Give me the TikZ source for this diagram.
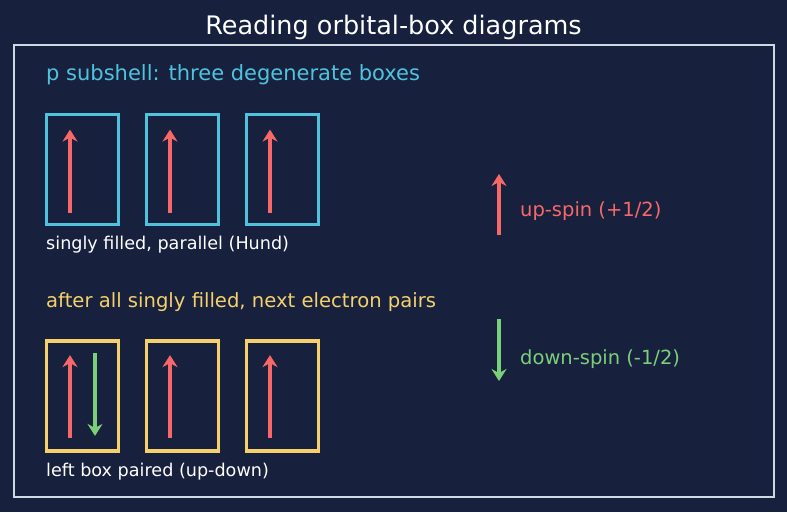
\documentclass[tikz,border=0pt]{standalone}
\usepackage{fontspec}
\setmainfont{DejaVu Sans}
\usetikzlibrary{arrows.meta}
\definecolor{bgnavy}{HTML}{17213E}
\definecolor{framegray}{HTML}{D0D8E4}
\definecolor{pcyan}{HTML}{4FC3DE}
\definecolor{pyellow}{HTML}{F5D06B}
\definecolor{spinred}{HTML}{F86868}
\definecolor{spingreen}{HTML}{7CCF7A}
\tikzset{
  orbbox/.style={draw,line width=3.8pt,minimum width=72pt,minimum height=110pt,inner sep=0pt},
  spinup/.style={spinred,line width=3.5pt,-{Stealth[length=12pt,width=15pt,inset=4pt]}},
  spindown/.style={spingreen,line width=3.5pt,-{Stealth[length=12pt,width=15pt,inset=4pt]}}
}
\begin{document}
\begin{tikzpicture}[x=1pt,y=-1pt]
\fill[bgnavy] (0,0) rectangle (787,512);
\node (title) at (393.5,27)[white,font=\fontsize{25.5}{30}\selectfont]{Reading orbital-box diagrams};
\draw[framegray,line width=1.8pt] (14,45) rectangle (774,497);
% p subshell, singly filled
\node (phead) at (46,75)[anchor=west,inner sep=0pt,pcyan,font=\fontsize{21}{25}\selectfont]{p subshell: three degenerate boxes};
\node (pa) at (82.5,169.5)[orbbox,pcyan]{};
\node (pb) at (182.5,169.5)[orbbox,pcyan]{};
\node (pc) at (282.5,169.5)[orbbox,pcyan]{};
\draw[spinup] ([xshift=-12.5pt,yshift=13.5pt]pa.south) -- ([xshift=-12.5pt,yshift=-17pt]pa.north);
\draw[spinup] ([xshift=-12.5pt,yshift=13.5pt]pb.south) -- ([xshift=-12.5pt,yshift=-17pt]pb.north);
\draw[spinup] ([xshift=-12.5pt,yshift=13.5pt]pc.south) -- ([xshift=-12.5pt,yshift=-17pt]pc.north);
\node (pnote) at (46,245)[anchor=west,inner sep=0pt,white,font=\fontsize{17.6}{21}\selectfont]{singly filled, parallel (Hund)};
% next electron pairs up
\node (qhead) at (46,302)[anchor=west,inner sep=0pt,pyellow,font=\fontsize{19.6}{24}\selectfont]{after all singly filled, next electron pairs};
\node (qa) at (82.5,396)[orbbox,pyellow]{};
\node (qb) at (182.5,396)[orbbox,pyellow]{};
\node (qc) at (282.5,396)[orbbox,pyellow]{};
\draw[spinup] ([xshift=-12.5pt,yshift=15pt]qa.south) -- ([xshift=-12.5pt,yshift=-16pt]qa.north);
\draw[spindown] ([xshift=12.5pt,yshift=-14pt]qa.north) -- ([xshift=12.5pt,yshift=17pt]qa.south);
\draw[spinup] ([xshift=-12.5pt,yshift=15pt]qb.south) -- ([xshift=-12.5pt,yshift=-16pt]qb.north);
\draw[spinup] ([xshift=-12.5pt,yshift=15pt]qc.south) -- ([xshift=-12.5pt,yshift=-16pt]qc.north);
\node (qnote) at (46,472)[anchor=west,inner sep=0pt,white,font=\fontsize{17.6}{21}\selectfont]{left box paired (up-down)};
% legend
\coordinate (upfoot) at (499,235);
\coordinate (uptip) at (499,174);
\draw[spinup] (upfoot) -- (uptip);
\node (uplabel) at (520,211)[anchor=west,inner sep=0pt,spinred,font=\fontsize{19.5}{23}\selectfont]{up-spin (+1/2)};
\coordinate (downfoot) at (499,319);
\coordinate (downtip) at (499,381);
\draw[spindown] (downfoot) -- (downtip);
\node (downlabel) at (520,359)[anchor=west,inner sep=0pt,spingreen,font=\fontsize{19.5}{23}\selectfont]{down-spin (-1/2)};
\end{tikzpicture}
\end{document}
